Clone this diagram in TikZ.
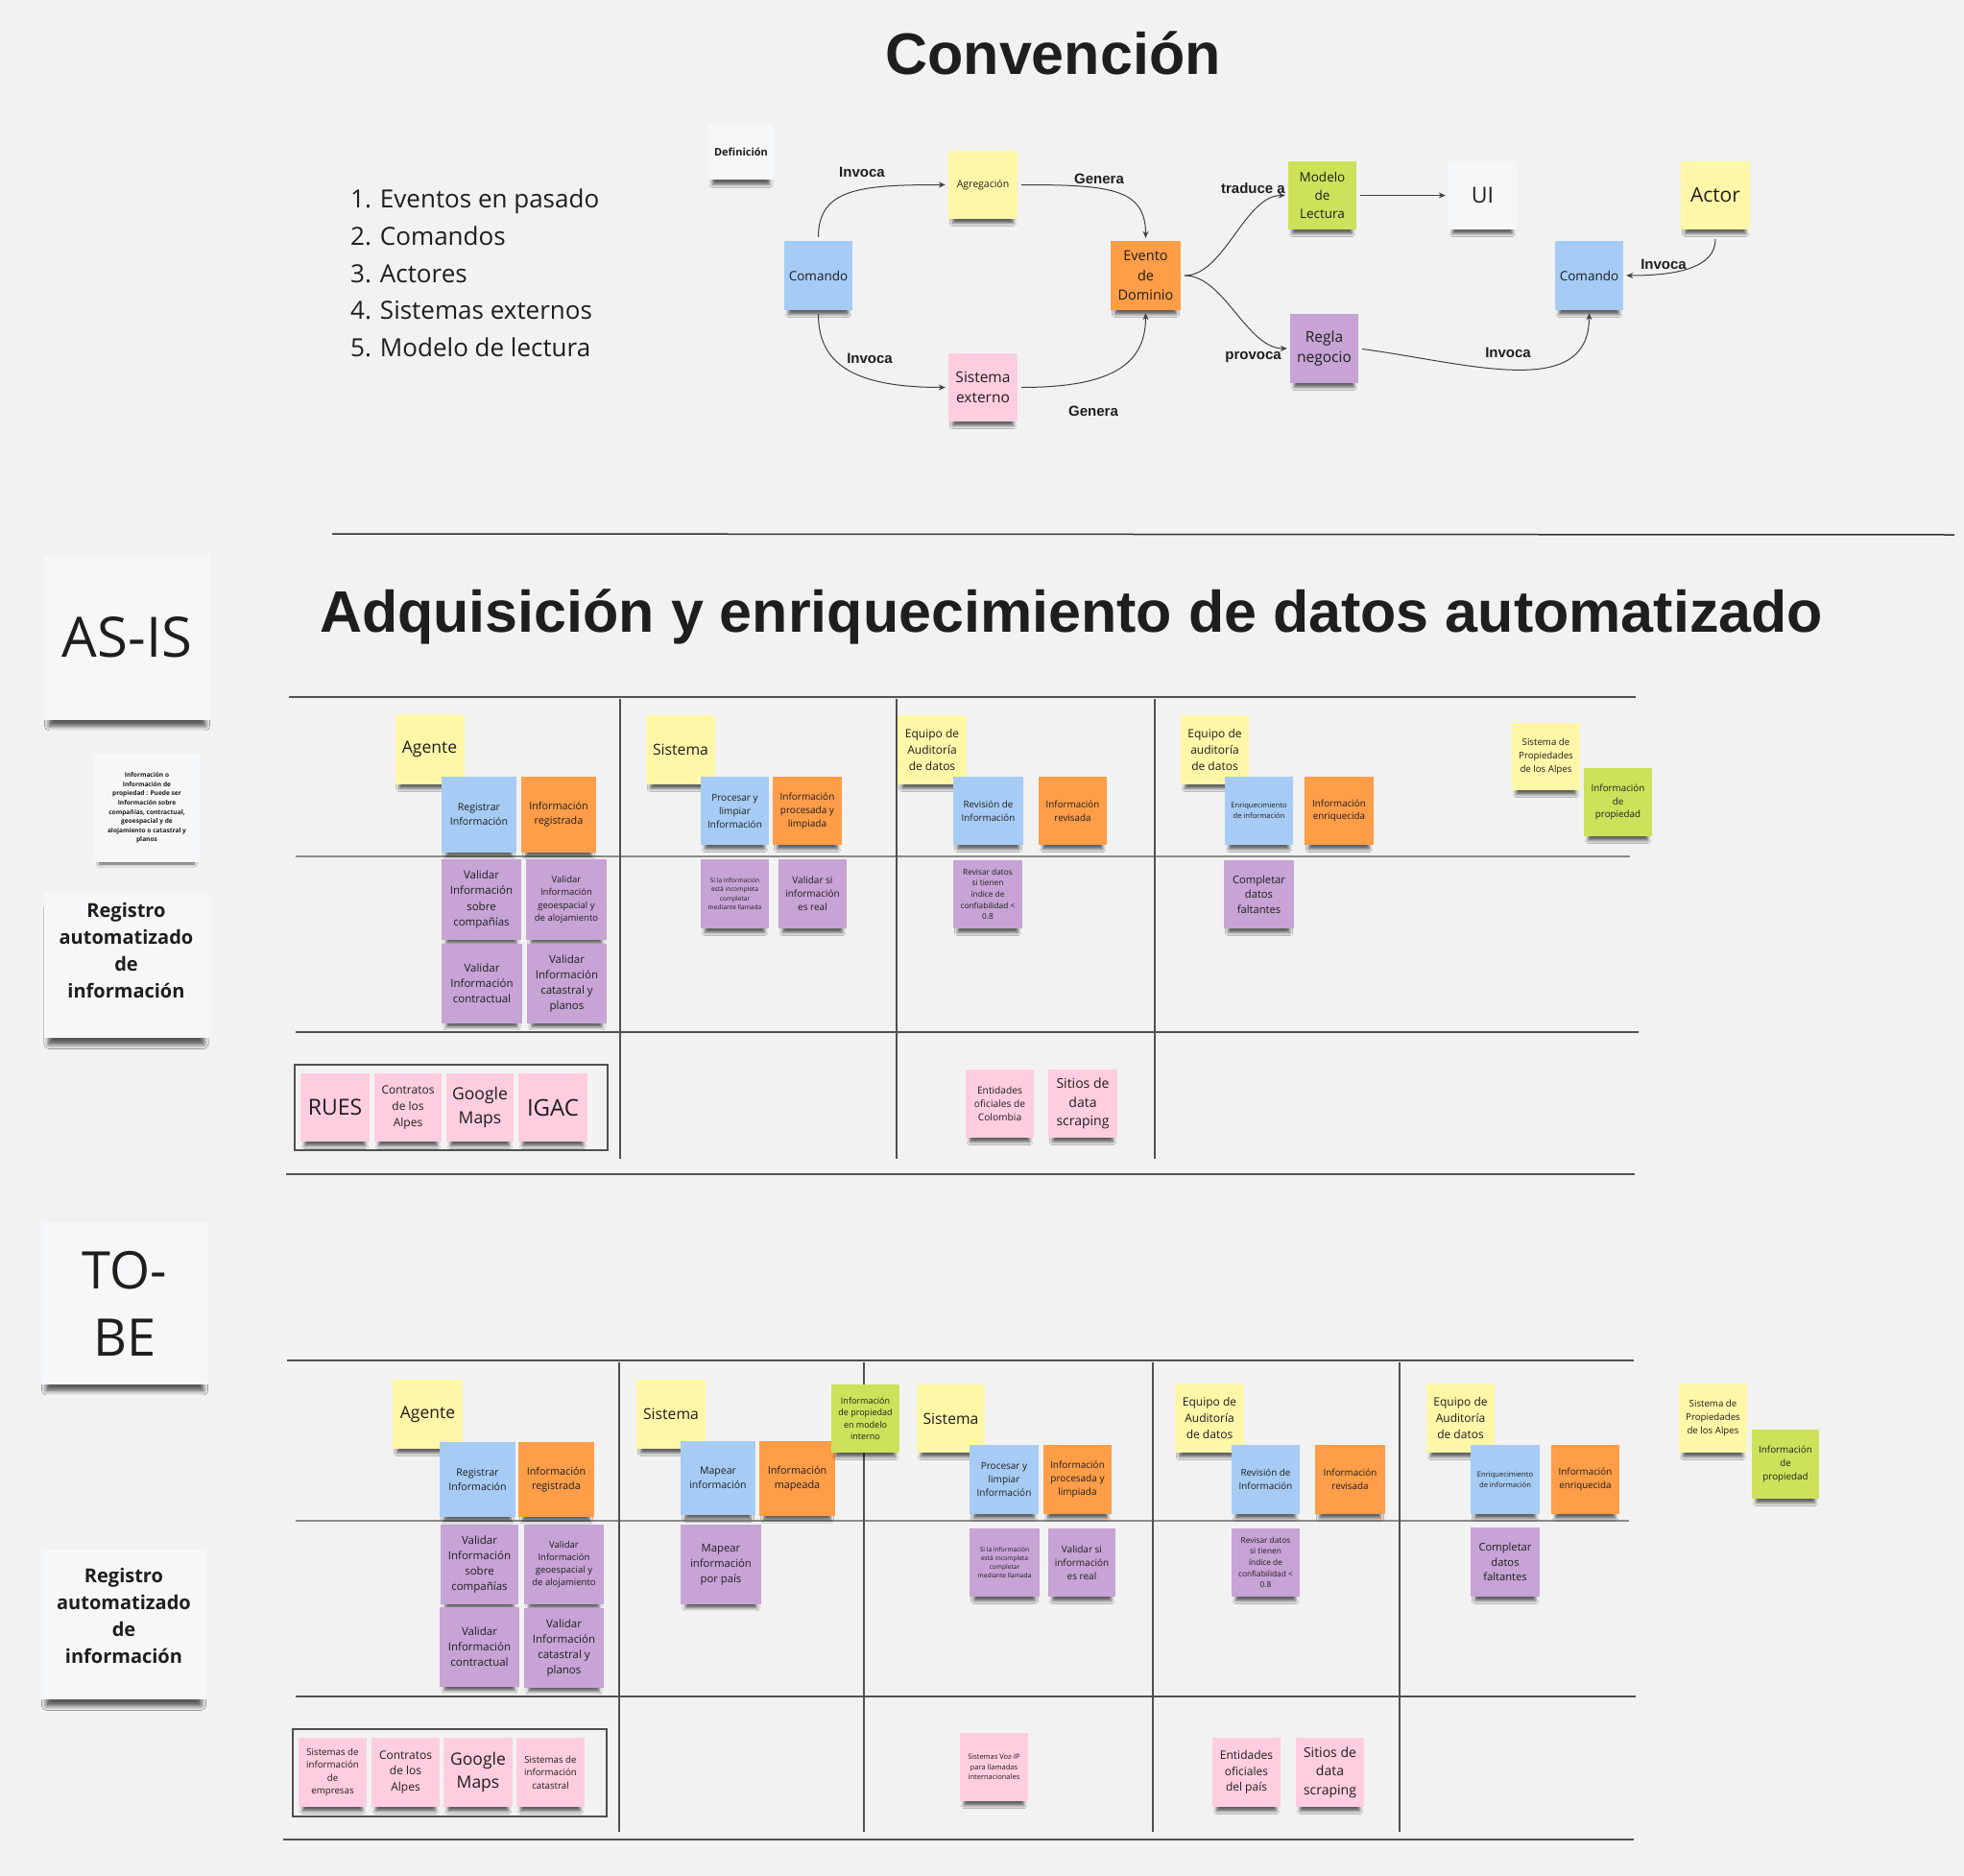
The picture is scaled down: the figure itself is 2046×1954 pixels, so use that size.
\documentclass[tikz,border=0pt]{standalone}
\usepackage{fontspec}
\setmainfont{Open Sans}
\newfontfamily\arialfont{Liberation Sans}
\usetikzlibrary{arrows.meta, shadows.blur}

\newcommand{\tfs}[2]{\fontsize{#1}{#2}\selectfont}

\definecolor{bg}{HTML}{F2F2F2}
\definecolor{nyellow}{HTML}{FFF7A8}
\definecolor{nblue}{HTML}{A6CCF5}
\definecolor{norange}{HTML}{FF9D48}
\definecolor{npurple}{HTML}{C7A3D6}
\definecolor{npink}{HTML}{FFCDE0}
\definecolor{ngreen}{HTML}{CDE25A}
\definecolor{nwhite}{HTML}{F6F7F9}
\definecolor{ink}{HTML}{1E1E1E}
\definecolor{gridc}{HTML}{505050}
\definecolor{gridm}{HTML}{8A8A8A}

\begin{document}
\begin{tikzpicture}[x=1pt,y=-1pt,
  note/.style={rectangle, inner sep=1pt, align=center, text=ink,
    minimum width=72pt, minimum height=72pt,
    blur shadow={shadow xshift=0pt, shadow yshift=-10pt, shadow scale=0.88,
      shadow opacity=60, shadow blur radius=3.5pt}},
  bignote/.style={blur shadow={shadow xshift=0pt, shadow yshift=-12pt, shadow scale=0.94,
      shadow opacity=40, shadow blur radius=5pt}},
  yel/.style={note, fill=nyellow},
  blu/.style={note, fill=nblue},
  ora/.style={note, fill=norange},
  pur/.style={note, fill=npurple},
  pnk/.style={note, fill=npink},
  grn/.style={note, fill=ngreen},
  wht/.style={note, fill=nwhite},
  sz/.style 2 args={minimum width=#1pt, minimum height=#2pt},
  fz/.style={font={\pgfmathsetmacro\notebsk{1.4*#1}\fontsize{#1}{\notebsk}\selectfont}},
  fzb/.style={font={\pgfmathsetmacro\notebsk{1.45*#1}\fontsize{#1}{\notebsk}\selectfont\bfseries}},
  lbl/.style={font=\arialfont\bfseries\tfs{15}{18}, text=ink, inner sep=0pt},
  flow/.style={draw=black!75, line width=1pt, -{Stealth[length=7pt, width=6pt]},
    shorten <=4pt, shorten >=3pt},
  gridl/.style={draw=gridc, line width=1.3pt},
  gridh/.style={draw=gridm, line width=2pt},
  bigtxt/.style={align=center, text=ink, font=\bfseries\tfs{20}{28}, inner sep=0pt},
]
\useasboundingbox (0,0) rectangle (2046,1954);
\fill[bg] (0,0) rectangle (2046,1954);

% ---------- Titles ----------
\node[font=\arialfont\bfseries\tfs{61}{70}, text=ink] (tconv) at (1097,55) {Convención};
\node[font=\arialfont\bfseries\tfs{61}{70}, text=ink] (tadq) at (1116,642)
  {Adquisición y enriquecimiento de datos automatizado};

% ---------- Legend list ----------
\node[anchor=west, align=left, font=\tfs{26}{38.6}, text=ink, inner sep=0pt] (lista) at (365,284.5)
  {1. Eventos en pasado\\2. Comandos\\3. Actores\\4. Sistemas externos\\5. Modelo de lectura};

% ---------- Convention diagram ----------
\node[wht, sz={68}{58}, fzb=11] (defn) at (772,158) {Definición};
\node[yel, sz={72}{71}, fz=10.5] (agg) at (1024,192.5) {Agregación};
\node[blu, sz={71}{72}, fz=13.5] (cmd1) at (852.5,287) {Comando};
\node[ora, sz={73}{72}, fz=14.5] (evt) at (1193.5,287) {Evento\\de\\Dominio};
\node[pnk, sz={72}{71}, fz=15.5] (sext) at (1024,403.5) {Sistema\\externo};
\node[grn, sz={71}{71}, fz=13.5] (modelo) at (1377.5,203.5) {Modelo\\de\\Lectura};
\node[wht, sz={71}{71}, fz=23] (ui) at (1544.5,203.5) {UI};
\node[yel, sz={72}{71}, fz=21] (actor) at (1787,203.5) {Actor};
\node[blu, sz={71}{72}, fz=13.5] (cmd2) at (1655.5,287) {Comando};
\node[pur, sz={71}{72}, fz=15.5] (regla) at (1379.5,363) {Regla\\negocio};

\draw[flow] (cmd1.north) .. controls +(0,-55) and +(-90,0) .. (agg.west);
\draw[flow] (agg.east) .. controls +(95,0) and +(0,-55) .. (evt.north);
\draw[flow] (cmd1.south) .. controls +(0,55) and +(-100,0) .. (sext.west);
\draw[flow] (sext.east) .. controls +(100,0) and +(0,55) .. (evt.south);
\draw[flow] (evt.east) .. controls +(45,0) and +(-45,0) .. (modelo.west);
\draw[flow] (evt.east) .. controls +(45,0) and +(-45,0) .. (regla.west);
\draw[flow] (modelo.east) -- (ui.west);
\draw[flow, shorten <=10pt] (actor.south) .. controls +(0,40) and +(55,0) .. (cmd2.east);
\draw[flow] (regla.east) .. controls +(113,15) and +(0,95) .. (cmd2.south);

\node[lbl] (l1) at (898,179) {Invoca};
\node[lbl] (l2) at (1145,186) {Genera};
\node[lbl] (l3) at (906,373) {Invoca};
\node[lbl] (l4) at (1139,428) {Genera};
\node[lbl, anchor=east] (l5) at (1339,196) {traduce a};
\node[lbl, anchor=east] (l6) at (1335,372) {provoca};
\node[lbl] (l7) at (1733,275) {Invoca};
\node[lbl] (l8) at (1571,367) {Invoca};

% separator
\draw[draw=black!80, line width=1.5pt] (346,556) -- (2036,557);

% ---------- AS-IS ----------
\draw[gridl] (301,726) -- (1704,726);
\draw[gridh] (308,892) -- (1698,892);
\draw[gridl] (308,1075) -- (1707,1075);
\draw[gridl] (298,1223) -- (1703,1223);
\foreach \x in {646,934,1203} \draw[gridl] (\x,728) -- (\x,1207);
\draw[gridl, line width=1.1pt] (307,1109) rectangle (633,1198);

\node[wht, bignote, sz={173}{172}, font=\tfs{58}{70}] (asis) at (132.5,664) {AS-IS};
\node[wht, sz={112}{113}, fzb=6.6] (nota) at (153,841.5)
  {Información o\\Información de\\propiedad : Puede ser\\Información sobre\\compañías, contractual,\\geoespacial y de\\alojamiento o catastral y\\planos};
\node[wht, bignote, sz={172}{152}] (regA) at (131.5,1005) {};
\node[bigtxt] (regAt) at (131.5,990) {Registro\\automatizado\\de\\información};

\node[yel, sz={72}{73}, fz=17.5] (agenteA) at (447.5,780.5) {Agente};
\node[blu, sz={78}{79}, fz=10.6] (registrarA) at (499,848.5) {Registrar\\Información};
\node[ora, sz={78}{79}, fz=10.8] (inforegA) at (582,848.5) {Información\\registrada};
\node[pur, sz={83}{84}, fz=11.5] (valA1) at (501.5,937) {Validar\\Información\\sobre\\compañías};
\node[pur, sz={84}{84}, fz=9.5] (valA2) at (590,937) {Validar\\Información\\geoespacial y\\de alojamiento};
\node[pur, sz={84}{83}, fz=11.5] (valA3) at (502,1024.5) {Validar\\Información\\contractual};
\node[pur, sz={83}{83}, fz=11.5] (valA4) at (590.5,1024.5) {Validar\\Información\\catastral y\\planos};
\node[pnk, sz={72}{71}, fz=23] (ruesA) at (349,1153.5) {RUES};
\node[pnk, sz={70}{71}, fz=12] (contratosA) at (425,1153.5) {Contratos\\de los\\Alpes};
\node[pnk, sz={70}{71}, fz=17.5] (gmapsA) at (500,1153.5) {Google\\Maps};
\node[pnk, sz={72}{71}, fz=24] (igacA) at (576,1153.5) {IGAC};

\node[yel, sz={72}{72}, fz=15.7] (sistemaA) at (709,781) {Sistema};
\node[blu, sz={71}{71}, fz=10] (procA) at (765.5,844.5) {Procesar y\\limpiar\\Información};
\node[ora, sz={72}{71}, fz=10] (infoprocA) at (841,844.5) {Información\\procesada y\\limpiada};
\node[pur, sz={71}{72}, fz=6.6] (silaA) at (765.5,931) {Si la información\\está incompleta\\completar\\mediante llamada};
\node[pur, sz={71}{72}, fz=10] (valrealA) at (846.5,931) {Validar si\\información\\es real};

\node[yel, sz={72}{72}, fz=12] (equipoA) at (971,781) {Equipo de\\Auditoría\\de datos};
\node[blu, sz={73}{71}, fz=9.8] (revisionA) at (1029.5,844.5) {Revisión de\\Información};
\node[ora, sz={71}{71}, fz=9.8] (inforevA) at (1117.5,844.5) {Información\\revisada};
\node[pur, sz={72}{71}, fz=8.3] (revisarA) at (1029,931.5) {Revisar datos\\si tienen\\índice de\\confiabilidad <\\0.8};
\node[pnk, sz={71}{71}, fz=10.2] (entidadesA) at (1041.5,1149.5) {Entidades\\oficiales de\\Colombia};
\node[pnk, sz={72}{71}, fz=14] (sitiosA) at (1128,1149.5) {Sitios de\\data\\scraping};

\node[yel, sz={71}{72}, fz=12] (equipoB) at (1265.5,781) {Equipo de\\auditoría\\de datos};
\node[blu, sz={71}{71}, fz=7.6] (enriqA) at (1311.5,844.5) {Enriquecimiento\\de información};
\node[ora, sz={72}{71}, fz=9.8] (infoenrA) at (1395,844.5) {Información\\enriquecida};
\node[pur, sz={73}{71}, fz=11.2] (completarA) at (1311.5,931.5) {Completar\\datos\\faltantes};

\node[yel, sz={71}{70}, fz=9.7] (sispropA) at (1610.5,788) {Sistema de\\Propiedades\\de los Alpes};
\node[grn, sz={71}{71}, fz=9.8] (infopropA) at (1685.5,835.5) {Información\\de\\propiedad};

% ---------- TO-BE ----------
\draw[gridl] (299,1417) -- (1702,1417);
\draw[gridh] (308,1584) -- (1697,1584);
\draw[gridl] (308,1767) -- (1704,1767);
\draw[gridl] (295,1916) -- (1702,1916);
\foreach \x in {645,900,1201,1458} \draw[gridl] (\x,1419) -- (\x,1908);
\draw[gridl, line width=1.1pt] (305,1801) rectangle (632,1892);

\node[wht, bignote, sz={174}{169}, font=\tfs{54}{70}] (tobe) at (130,1357.5) {TO-\\BE};
\node[wht, bignote, sz={172}{156}] (regB) at (129,1692) {};
\node[bigtxt] (regBt) at (129,1683) {Registro\\automatizado\\de\\información};

\node[yel, sz={73}{72}, fz=17.5] (agenteB) at (445.5,1473) {Agente};
\node[blu, sz={79}{78}, fz=10.6] (registrarB) at (497.5,1541) {Registrar\\Información};
\node[ora, sz={79}{78}, fz=10.8] (inforegB) at (579.5,1541) {Información\\registrada};
\node[pur, sz={81}{83}, fz=11.5] (valB1) at (499.5,1629.5) {Validar\\Información\\sobre\\compañías};
\node[pur, sz={83}{83}, fz=9.5] (valB2) at (587.5,1629.5) {Validar\\Información\\geoespacial y\\de alojamiento};
\node[pur, sz={83}{83}, fz=11.5] (valB3) at (499.5,1715.5) {Validar\\Información\\contractual};
\node[pur, sz={83}{83}, fz=11.5] (valB4) at (587.5,1716.5) {Validar\\Información\\catastral y\\planos};
\node[pnk, sz={71}{72}, fz=9.7] (sisempB) at (346.5,1846) {Sistemas de\\información\\de\\empresas};
\node[pnk, sz={71}{72}, fz=12] (contratosB) at (422.5,1846) {Contratos\\de los\\Alpes};
\node[pnk, sz={72}{72}, fz=17.5] (gmapsB) at (498,1846) {Google\\Maps};
\node[pnk, sz={71}{72}, fz=9.7] (siscatB) at (573.5,1846) {Sistemas de\\información\\catastral};

\node[yel, sz={72}{72}, fz=15.7] (sistemaB) at (699,1473) {Sistema};
\node[blu, sz={78}{77}, fz=10.5] (mapearB) at (748,1539.5) {Mapear\\información};
\node[ora, sz={79}{78}, fz=10.8] (infomapB) at (830.5,1540) {Información\\mapeada};
\node[grn, sz={71}{71}, fz=9] (infomodB) at (901.5,1477.5) {Información\\de propiedad\\en modelo\\interno};
\node[pur, sz={84}{83}, fz=11.3] (mapearpaisB) at (751,1629.5) {Mapear\\información\\por país};

\node[yel, sz={71}{71}, fz=15.7] (sistemaC) at (990.5,1477.5) {Sistema};
\node[blu, sz={72}{72}, fz=10] (procB) at (1046,1541) {Procesar y\\limpiar\\Información};
\node[ora, sz={71}{72}, fz=10] (infoprocB) at (1122.5,1541) {Información\\procesada y\\limpiada};
\node[pur, sz={73}{71}, fz=6.6] (silaB) at (1046.5,1627.5) {Si la información\\está incompleta\\completar\\mediante llamada};
\node[pur, sz={70}{71}, fz=10] (valrealB) at (1127,1627.5) {Validar si\\información\\es real};
\node[pnk, sz={71}{71}, fz=7.5] (vozipB) at (1035.5,1840.5) {Sistemas Voz-IP\\para llamadas\\internacionales};

\node[yel, sz={72}{72}, fz=12] (equipoC) at (1260,1477) {Equipo de\\Auditoría\\de datos};
\node[blu, sz={71}{72}, fz=9.8] (revisionB) at (1318.5,1541) {Revisión de\\Información};
\node[ora, sz={73}{72}, fz=9.8] (inforevB) at (1406.5,1541) {Información\\revisada};
\node[pur, sz={71}{71}, fz=8.3] (revisarB) at (1318.5,1627.5) {Revisar datos\\si tienen\\índice de\\confiabilidad <\\0.8};
\node[pnk, sz={71}{72}, fz=12] (entidadesB) at (1298.5,1846) {Entidades\\oficiales\\del país};
\node[pnk, sz={71}{72}, fz=14] (sitiosB) at (1385.5,1846) {Sitios de\\data\\scraping};

\node[yel, sz={71}{72}, fz=12] (equipoD) at (1521.5,1477) {Equipo de\\Auditoría\\de datos};
\node[blu, sz={72}{72}, fz=7.6] (enriqB) at (1568,1541) {Enriquecimiento\\de información};
\node[ora, sz={71}{72}, fz=9.8] (infoenrB) at (1651.5,1541) {Información\\enriquecida};
\node[pur, sz={72}{72}, fz=11.2] (completarB) at (1568,1627) {Completar\\datos\\faltantes};

\node[yel, sz={71}{72}, fz=9.7] (sispropB) at (1784.5,1477) {Sistema de\\Propiedades\\de los Alpes};
\node[grn, sz={70}{72}, fz=9.8] (infopropB) at (1860,1525) {Información\\de\\propiedad};
\end{tikzpicture}
\end{document}
